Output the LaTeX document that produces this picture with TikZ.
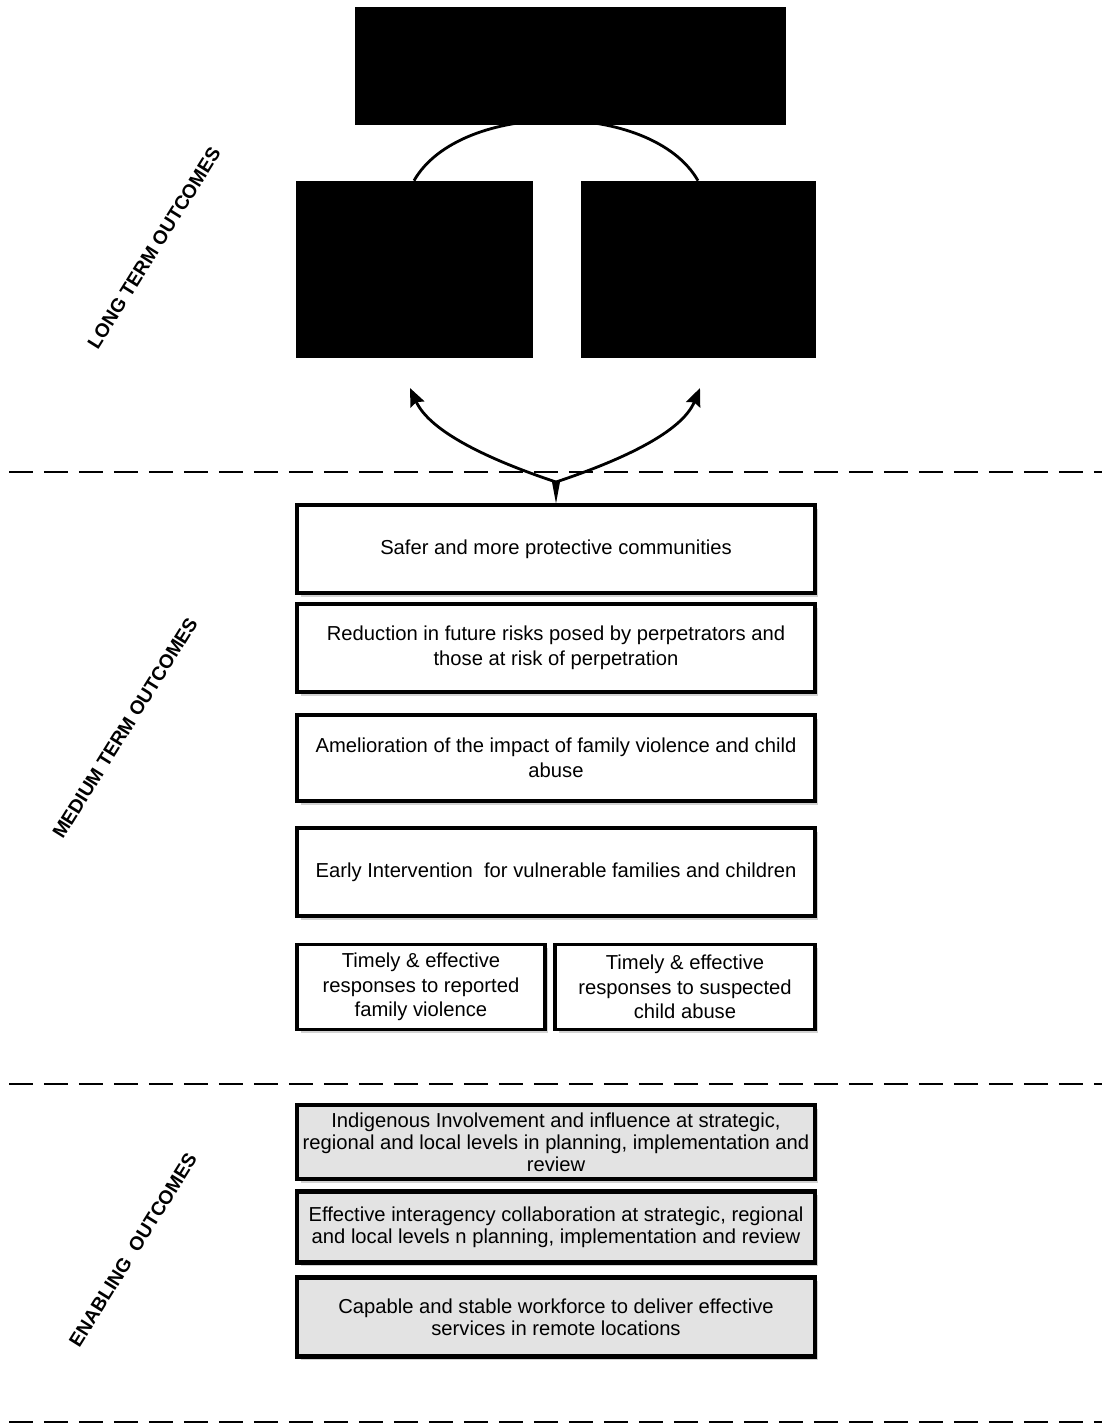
\documentclass[tikz,border=0pt]{standalone}
\usepackage{fontspec}
\setmainfont{Liberation Sans}
\usetikzlibrary{arrows.meta,shadows}

\begin{document}
\begin{tikzpicture}[x=0.02cm, y=-0.02cm,
>={Stealth[length=0.36cm, width=0.3cm, inset=0.05cm]},
darkbox/.style={fill=black, draw=black, inner sep=0},
medbox/.style={draw, fill=white, line width=1.8pt, align=center, inner sep=0,
  font=\fontsize{11.5}{14}\selectfont,
  drop shadow={shadow xshift=0.07cm, shadow yshift=-0.07cm, fill=gray!35, opacity=1}},
enabox/.style={medbox, line width=2.6pt, fill=gray!22, font=\fontsize{11.5}{12.4}\selectfont},
tier/.style={rotate=58, font=\bfseries\fontsize{11}{13}\selectfont},
divider/.style={line width=1.4pt, dash pattern=on 0.48cm off 0.22cm},
link/.style={line width=1.6pt},
]
\useasboundingbox (0,0) rectangle (1102,1428);

%%%%%%%%%%%%%%%%%%%%%%%% DIVIDERS %%%%%%%%%%%%%%%%%%%%%%%%
\draw[divider] (9,472) -- (1102,472);
\draw[divider] (9,1084) -- (1102,1084);
\draw[divider] (9,1422) -- (1102,1422);

%%%%%%%%%%%%%%%%%%%%%%%% TIER LABELS %%%%%%%%%%%%%%%%%%%%%%%%
\node[tier] (longlab) at (154,248) {LONG TERM OUTCOMES};
\node[tier] (medlab) at (125,728) {MEDIUM TERM OUTCOMES};
\node[tier] (enablab) at (133,1250) {ENABLING\ \ OUTCOMES};

%%%%%%%%%%%%%%%%%%%%%%%% LONG TERM %%%%%%%%%%%%%%%%%%%%%%%%
\node[darkbox, minimum width=4.72cm, minimum height=3.52cm] (lbox) at (414,269) {};
\node[darkbox, minimum width=4.68cm, minimum height=3.52cm] (rbox) at (698,269) {};
\draw[link] (lbox.north) .. controls (460,100) and (652,100) .. (rbox.north);
\node[darkbox, minimum width=8.6cm, minimum height=2.34cm] (goal) at (570,66) {};

%%%%%%%%%%%%%%%%%%%%%%%% MEDIUM TERM %%%%%%%%%%%%%%%%%%%%%%%%
\node[medbox, minimum width=10.36cm, minimum height=1.76cm] (safer) at (556,549)
  {Safer and more protective communities};
\node[medbox, minimum width=10.36cm, minimum height=1.76cm] (reduce) at (556,648)
  {Reduction in future risks posed by perpetrators and\\those at risk of perpetration};
\node[medbox, minimum width=10.36cm, minimum height=1.72cm] (amelior) at (556,758)
  {Amelioration of the impact of family violence and child\\abuse};
\node[medbox, minimum width=10.36cm, minimum height=1.76cm] (early) at (556,872)
  {Early Intervention\ \ for vulnerable families and children};
\node[medbox, minimum width=4.96cm, minimum height=1.7cm] (timelyfv) at (421,987)
  {Timely \& effective\\responses to reported\\family violence};
\node[medbox, minimum width=5.2cm, minimum height=1.7cm] (timelyca) at (685,987)
  {Timely \& effective\\responses to suspected\\child abuse};

%%%%%%%%%%%%%%%%%%%%%%%% ARROWS UP %%%%%%%%%%%%%%%%%%%%%%%%
\coordinate (jn) at (556,482);
\coordinate (ltip) at (410,388);
\coordinate (rtip) at (700,388);
\fill ([xshift=-0.08cm]jn) -- ([xshift=0.08cm]jn) -- (safer.north) -- cycle;
\draw[link, ->] (jn) .. controls (490,460) and (430,432) .. (ltip);
\draw[link, ->] (jn) .. controls (622,460) and (682,432) .. (rtip);

%%%%%%%%%%%%%%%%%%%%%%%% ENABLING %%%%%%%%%%%%%%%%%%%%%%%%
\node[enabox, minimum width=10.36cm, minimum height=1.48cm] (indig) at (556,1142)
  {Indigenous Involvement and influence at strategic,\\regional and local levels in planning, implementation and\\review};
\node[enabox, minimum width=10.36cm, minimum height=1.42cm] (interag) at (556,1227)
  {Effective interagency collaboration at strategic, regional\\and local levels n planning, implementation and review};
\node[enabox, minimum width=10.36cm, minimum height=1.58cm] (workforce) at (556,1317)
  {Capable and stable workforce to deliver effective\\services in remote locations};
\end{tikzpicture}
\end{document}
